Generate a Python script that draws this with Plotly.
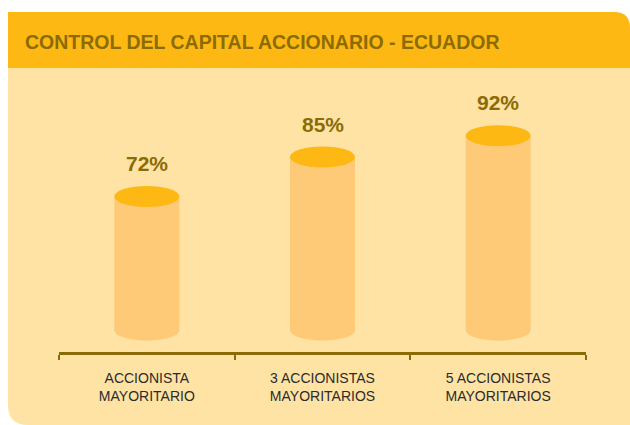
import plotly.graph_objects as go

# ---- data ----
categories = ["ACCIONISTA<br>MAYORITARIO", "3 ACCIONISTAS<br>MAYORITARIOS", "5 ACCIONISTAS<br>MAYORITARIOS"]
values = [72, 85, 92]
value_labels = ["72%", "85%", "92%"]
title_text = "CONTROL DEL CAPITAL ACCIONARIO - ECUADOR"

# ---- style ----
W, H = 630, 425
ML, MR, MT, MB = 59, 44, 68, 73
PW, PH = W - ML - MR, H - MT - MB
BASE = 28            # visual base of the cylinders
Y_RANGE = [20.8, 114.3]

HEADER = "#FDB813"
PANEL = "#FEE3A5"
BODY = "#FFCA78"
TOP = "#FDB813"
DARK = "#8B6B05"
LABEL = "#2B2B2B"


def fx(px):
    return (px - ML) / PW


def fy(py):
    return (H - MB - py) / PH


fig = go.Figure()
fig.add_trace(go.Bar(
    x=categories,
    y=[v - BASE for v in values],
    base=[BASE] * len(values),
    width=0.37,
    marker=dict(color=BODY, line=dict(width=0)),
    hoverinfo="skip",
    showlegend=False,
))

shapes = []
panel_path = (
    f"M {fx(8)},{fy(12)} L {fx(614)},{fy(12)} Q {fx(630)},{fy(12)} {fx(630)},{fy(28)} "
    f"L {fx(630)},{fy(425)} L {fx(28)},{fy(425)} Q {fx(8)},{fy(425)} {fx(8)},{fy(405)} Z"
)
shapes.append(dict(type="path", xref="paper", yref="paper", path=panel_path,
                   fillcolor=PANEL, line=dict(width=0), layer="below"))
header_path = (
    f"M {fx(8)},{fy(12)} L {fx(614)},{fy(12)} Q {fx(630)},{fy(12)} {fx(630)},{fy(28)} "
    f"L {fx(630)},{fy(68)} L {fx(8)},{fy(68)} Z"
)
shapes.append(dict(type="path", xref="paper", yref="paper", path=header_path,
                   fillcolor=HEADER, line=dict(width=0), layer="below"))

for c, v in zip(categories, values):
    shapes.append(dict(type="circle", xref="x", yref="y", xsizemode="pixel", ysizemode="pixel",
                       xanchor=c, yanchor=BASE, x0=-32.5, x1=32.5, y0=-10.5, y1=10.5,
                       fillcolor=BODY, line=dict(width=0), layer="above"))
    shapes.append(dict(type="circle", xref="x", yref="y", xsizemode="pixel", ysizemode="pixel",
                       xanchor=c, yanchor=v, x0=-32.5, x1=32.5, y0=-10.5, y1=10.5,
                       fillcolor=TOP, line=dict(width=0), layer="above"))

annotations = []
for c, v, t in zip(categories, values, value_labels):
    annotations.append(dict(x=c, y=v, xref="x", yref="y", text=f"<b>{t}</b>", showarrow=False,
                            yanchor="middle", yshift=33,
                            font=dict(family="Liberation Sans, Arial, sans-serif", size=21, color=DARK)))

annotations.append(dict(x=fx(262.5), y=fy(41.5), xref="paper", yref="paper",
                        text=f"<b>{title_text}</b>", showarrow=False,
                        xanchor="center", yanchor="middle",
                        font=dict(family="Liberation Sans, Arial, sans-serif",
                                  size=19.5, color=DARK)))

fig.update_layout(
    width=W, height=H,
    margin=dict(l=ML, r=MR, t=MT, b=MB, pad=0),
    paper_bgcolor="white",
    plot_bgcolor="rgba(0,0,0,0)",
    shapes=shapes,
    annotations=annotations,
    showlegend=False,
    xaxis=dict(
        type="category", range=[-0.5, 2.5],
        showline=True, linecolor=DARK, linewidth=2.5,
        ticks="outside", tickson="boundaries", ticklen=5, tickwidth=2, tickcolor=DARK,
        showgrid=False, zeroline=False, fixedrange=True,
        ticklabelstandoff=11,
        tickfont=dict(family="Liberation Sans, Arial, sans-serif", size=14, color=LABEL),
    ),
    yaxis=dict(range=Y_RANGE, visible=False, showgrid=False, zeroline=False, fixedrange=True),
)

fig.write_html("out.html", config={"displayModeBar": False},
               post_script="document.body.style.margin='0';document.body.style.overflow='hidden';")
